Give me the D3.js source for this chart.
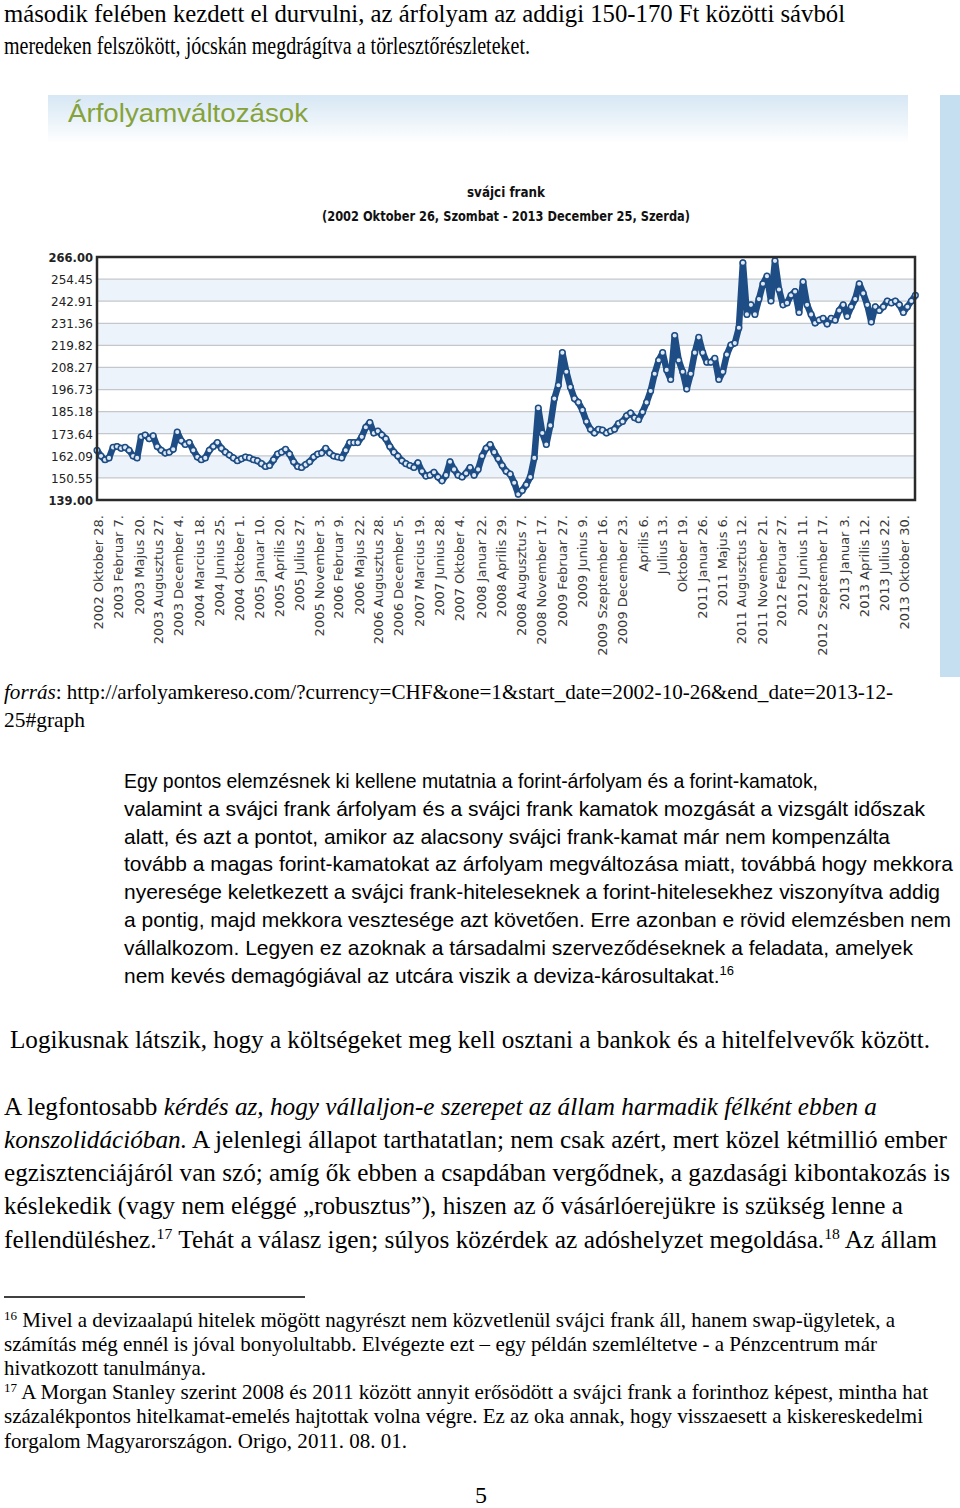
<!DOCTYPE html>
<html>
<head>
<meta charset="utf-8">
<script src="https://cdn.jsdelivr.net/npm/d3@7"></script>
<style>
  body { margin: 0; background: #fff; }
  svg { display: block; }
</style>
</head>
<body>
<div id="page"></div>
<script>
// y axis tick values as printed on the chart
var yTicks = [139.00, 150.55, 162.09, 173.64, 185.18, 196.73, 208.27, 219.82, 231.36, 242.91, 254.45, 266.00];

var tickDates = ["2002-10-28", "2003-02-07", "2003-05-20", "2003-08-27", "2003-12-04", "2004-03-18",
    "2004-06-25", "2004-10-01", "2005-01-10", "2005-04-20", "2005-07-27", "2005-11-03", "2006-02-09",
    "2006-05-22", "2006-08-28", "2006-12-05", "2007-03-19", "2007-06-28", "2007-10-04", "2008-01-22",
    "2008-04-29", "2008-08-07", "2008-11-17", "2009-02-27", "2009-06-09", "2009-09-16", "2009-12-23",
    "2010-04-06", "2010-07-13", "2010-10-19", "2011-01-26", "2011-05-06", "2011-08-12", "2011-11-21",
    "2012-02-27", "2012-06-11", "2012-09-17", "2013-01-03", "2013-04-12", "2013-07-22", "2013-10-30"];

var tickLabels = ["2002 Oktober 28.", "2003 Februar 7.", "2003 Majus 20.", "2003 Augusztus 27.",
    "2003 December 4.", "2004 Marcius 18.", "2004 Junius 25.", "2004 Oktober 1.", "2005 Januar 10.",
    "2005 Aprilis 20.", "2005 Julius 27.", "2005 November 3.", "2006 Februar 9.", "2006 Majus 22.",
    "2006 Augusztus 28.", "2006 December 5.", "2007 Marcius 19.", "2007 Junius 28.", "2007 Oktober 4.",
    "2008 Januar 22.", "2008 Aprilis 29.", "2008 Augusztus 7.", "2008 November 17.", "2009 Februar 27.",
    "2009 Junius 9.", "2009 Szeptember 16.", "2009 December 23.", "Aprilis 6.", "Julius 13.",
    "Oktober 19.", "2011 Januar 26.", "2011 Majus 6.", "2011 Augusztus 12.", "2011 November 21.",
    "2012 Februar 27.", "2012 Junius 11.", "2012 Szeptember 17.", "2013 Januar 3.", "2013 Aprilis 12.",
    "2013 Julius 22.", "2013 Oktober 30."];

// CHF/HUF rate, one reading every 20 days from the start date
var seriesStart = "2002-10-26";
var seriesEnd = "2013-12-25";
var stepDays = 20;
var rates = [
    165, 162, 160, 161, 166.5, 167, 166, 166.5, 165, 162,
    161, 172, 173, 171, 172.5, 167, 165, 163.5, 164, 165.5,
    174.5, 170, 168, 169, 165, 161.5, 160, 161, 165, 167,
    169, 166, 164, 162.5, 161, 159.5, 160.5, 161.5, 161, 160,
    159.5, 158, 156.5, 157, 160, 163, 164, 165.5, 163, 159,
    156.5, 156, 157.5, 159, 161.5, 163, 163.5, 166, 163.5, 162,
    161.5, 161, 165, 169, 169, 169, 172, 177, 179.5, 174,
    175, 173, 171, 167, 164, 162, 159.5, 158, 157, 156,
    158.5, 154, 151.5, 152, 153.5, 151, 149, 152, 159, 155,
    152, 151, 153, 156, 152, 155, 162, 166, 168, 164,
    160.5, 157, 154, 152.5, 148, 142, 144, 147, 151, 161,
    187, 174, 168, 178, 192, 199, 216, 206, 198, 192,
    190, 186, 180, 176, 174, 176, 175.5, 174, 175, 176,
    179, 180, 183, 184.5, 182, 181, 185, 190, 196, 205,
    212, 216, 207, 202, 225, 212, 206, 197, 205, 216,
    224, 216, 211, 211, 213, 202, 206, 215, 220, 221,
    229, 263, 236, 241, 236, 244, 252, 256, 243, 264,
    249, 241, 242, 246, 248, 237, 253, 241, 236, 231.5,
    233, 234, 231, 234, 233, 238, 241, 235, 240, 244,
    252, 247, 241, 232, 240, 238, 240, 243, 242, 243,
    241, 237, 240, 243, 246
];

var W = 960, H = 1508;
var parse = d3.timeParse("%Y-%m-%d");
var serif = "'Liberation Serif', 'Times New Roman', serif";
var sans = "'Liberation Sans', Arial, sans-serif";
var chartFont = "'DejaVu Sans', Verdana, sans-serif";

const svg = d3.select("#page").append("svg")
    .attr("width", W)
    .attr("height", H)
    .attr("viewBox", [0, 0, W, H]);

// one line of page text, fitted to the width it has in the scan
function textLine(x, y, width, size, family, parts) {
    var t = svg.append("text")
        .attr("x", x)
        .attr("y", y)
        .attr("font-size", size)
        .attr("font-family", family)
        .attr("fill", "#000");
    if (width) t.attr("textLength", width).attr("lengthAdjust", "spacingAndGlyphs");
    var shifted = false;
    parts.forEach(function (p) {
        var s = t.append("tspan");
        if (typeof p === "string") {
            s.text(p);
            if (shifted) { s.attr("dy", size * 0.35); shifted = false; }
        } else if (p.i) {
            s.attr("font-style", "italic").text(p.i);
            if (shifted) { s.attr("dy", size * 0.35); shifted = false; }
        } else if (p.sup) {
            s.attr("font-size", size * 0.62).attr("dy", -size * 0.35).text(p.sup);
            shifted = true;
        }
    });
    return t;
}

// text above the figure
textLine(4, 22, 841, 25, serif, ["második felében kezdett el durvulni, az árfolyam az addigi 150-170 Ft közötti sávból"]);
textLine(4, 54, 526, 25, serif, ["meredeken felszökött, jócskán megdrágítva a törlesztőrészleteket."]);

// ---- the screenshot of the exchange rate page ----
var defs = svg.append("defs");
var grad = defs.append("linearGradient").attr("id", "hdr").attr("x1", 0).attr("y1", 0).attr("x2", 0).attr("y2", 1);
grad.append("stop").attr("offset", "0%").attr("stop-color", "#d6e7f4");
grad.append("stop").attr("offset", "60%").attr("stop-color", "#eef5fa");
grad.append("stop").attr("offset", "100%").attr("stop-color", "#ffffff");

svg.append("rect").attr("x", 48).attr("y", 95).attr("width", 860).attr("height", 48).attr("fill", "url(#hdr)");
svg.append("rect").attr("x", 940).attr("y", 95).attr("width", 20).attr("height", 582).attr("fill", "#c6dff0");

svg.append("text")
    .attr("x", 68).attr("y", 122)
    .attr("font-family", sans)
    .attr("font-size", 26)
    .attr("fill", "#86a23a")
    .attr("textLength", 240).attr("lengthAdjust", "spacingAndGlyphs")
    .text("Árfolyamváltozások");

svg.append("text")
    .attr("x", 506).attr("y", 197)
    .attr("text-anchor", "middle")
    .attr("font-family", "'DejaVu Sans Condensed', 'DejaVu Sans', sans-serif")
    .attr("font-weight", "bold")
    .attr("font-size", 14)
    .attr("fill", "#111")
    .attr("textLength", 78).attr("lengthAdjust", "spacingAndGlyphs")
    .text("svájci frank");

svg.append("text")
    .attr("x", 506).attr("y", 221)
    .attr("text-anchor", "middle")
    .attr("font-family", "'DejaVu Sans Condensed', 'DejaVu Sans', sans-serif")
    .attr("font-weight", "bold")
    .attr("font-size", 14)
    .attr("fill", "#111")
    .attr("textLength", 368).attr("lengthAdjust", "spacingAndGlyphs")
    .text("(2002 Oktober 26, Szombat - 2013 December 25, Szerda)");

var margin = { top: 257, right: 915, bottom: 500, left: 97 };

var x = d3.scaleTime()
    .domain([parse(seriesStart), parse(seriesEnd)])
    .range([margin.left, margin.right]);

var y = d3.scaleLinear()
    .domain([d3.min(yTicks), d3.max(yTicks)])
    .range([margin.bottom, margin.top]);

// alternating bands between the grid lines
svg.append("g")
    .selectAll("rect")
    .data(d3.pairs(yTicks))
    .join("rect")
    .attr("x", margin.left)
    .attr("y", d => y(d[1]))
    .attr("width", margin.right - margin.left)
    .attr("height", d => y(d[0]) - y(d[1]))
    .attr("fill", (d, i) => i % 2 === 1 ? "#edf3fa" : "#ffffff");

svg.append("g")
    .attr("stroke", "#c4c8cc")
    .attr("stroke-width", 1.2)
    .selectAll("line")
    .data(yTicks)
    .join("line")
    .attr("x1", margin.left)
    .attr("x2", margin.right)
    .attr("y1", d => y(d))
    .attr("y2", d => y(d));

var yAxis = g => g
    .attr("transform", `translate(${margin.left - 4},0)`)
    .call(d3.axisLeft(y).tickValues(yTicks).tickFormat(d3.format(".2f")).tickSize(0).tickPadding(0))
    .call(g => g.select(".domain").remove())
    .call(g => g.selectAll("text")
        .attr("font-family", chartFont)
        .attr("font-size", 12)
        .attr("fill", "#222")
        .attr("dy", "0.36em"))
    .call(g => g.selectAll("text").filter(d => d === d3.min(yTicks) || d === d3.max(yTicks))
        .attr("font-weight", "bold")
        .attr("font-size", 11.5));

var xAxis = g => g
    .attr("transform", `translate(0,${margin.bottom})`)
    .call(d3.axisBottom(x).tickValues(tickDates.map(parse)).tickFormat((d, i) => tickLabels[i]).tickSize(0))
    .call(g => g.select(".domain").remove())
    .call(g => g.selectAll("text")
        .attr("font-family", chartFont)
        .attr("font-size", 13)
        .attr("fill", "#3a3a3a")
        .attr("text-anchor", "end")
        .attr("transform", "rotate(-90)")
        .attr("x", -15)
        .attr("y", 0)
        .attr("dy", "0.36em"));

svg.append("g").call(yAxis);
svg.append("g").call(xAxis);

var points = rates.map((v, i) => ({ date: d3.timeDay.offset(parse(seriesStart), i * stepDays), value: v }));

var line = d3.line()
    .x(d => x(d.date))
    .y(d => y(d.value))
    .curve(d3.curveLinear);

svg.append("path")
    .datum(points)
    .attr("fill", "none")
    .attr("stroke", "#1e4d85")
    .attr("stroke-width", 6.5)
    .attr("stroke-linejoin", "round")
    .attr("d", line);

svg.append("g")
    .attr("fill", "#dfe9f4")
    .attr("stroke", "#1e4d85")
    .attr("stroke-width", 1.5)
    .selectAll("circle")
    .data(points)
    .join("circle")
    .attr("cx", d => x(d.date))
    .attr("cy", d => y(d.value))
    .attr("r", 2.8);

// plot frame
svg.append("rect")
    .attr("x", margin.left)
    .attr("y", margin.top)
    .attr("width", margin.right - margin.left)
    .attr("height", margin.bottom - margin.top)
    .attr("fill", "none")
    .attr("stroke", "#2a2a2a")
    .attr("stroke-width", 2.5);

// ---- text below the figure ----
textLine(4, 699, 889, 21, serif, [{ i: "forrás" }, ": http://arfolyamkereso.com/?currency=CHF&one=1&start_date=2002-10-26&end_date=2013-12-"]);
textLine(4, 727, 81, 21, serif, ["25#graph"]);

var paraLines = [
    ["Egy pontos elemzésnek ki kellene mutatnia a forint-árfolyam és a forint-kamatok,", 694],
    ["valamint a svájci frank árfolyam és a svájci frank kamatok mozgását a vizsgált időszak", 801],
    ["alatt, és azt a pontot, amikor az alacsony svájci frank-kamat már nem kompenzálta", 766],
    ["tovább a magas forint-kamatokat az árfolyam megváltozása miatt, továbbá hogy mekkora", 829],
    ["nyeresége keletkezett a svájci frank-hiteleseknek a forint-hitelesekhez viszonyítva addig", 816],
    ["a pontig, majd mekkora vesztesége azt követően. Erre azonban e rövid elemzésben nem", 827],
    ["vállalkozom. Legyen ez azoknak a társadalmi szerveződéseknek a feladata, amelyek", 789]
];
paraLines.forEach(function (l, i) {
    textLine(124, 788 + i * 27.8, l[1], 21, sans, [l[0]]);
});
textLine(124, 788 + 7 * 27.8, 610, 21, sans, ["nem kevés demagógiával az utcára viszik a deviza-károsultakat.", { sup: "16" }]);

textLine(10, 1048, 920, 25, serif, ["Logikusnak látszik, hogy a költségeket meg kell osztani a bankok és a hitelfelvevők között."]);

textLine(4, 1115, 873, 25, serif, ["A legfontosabb ", { i: "kérdés az, hogy vállaljon-e szerepet az állam harmadik félként ebben a" }]);
textLine(4, 1148, 943, 25, serif, [{ i: "konszolidációban." }, " A jelenlegi állapot tarthatatlan; nem csak azért, mert közel kétmillió ember"]);
textLine(4, 1181, 946, 25, serif, ["egzisztenciájáról van szó; amíg ők ebben a csapdában vergődnek, a gazdasági kibontakozás is"]);
textLine(4, 1214, 899, 25, serif, ["késlekedik (vagy nem eléggé „robusztus”), hiszen az ő vásárlóerejükre is szükség lenne a"]);
textLine(4, 1248, 933, 25, serif, ["fellendüléshez.", { sup: "17" }, " Tehát a válasz igen; súlyos közérdek az adóshelyzet megoldása.", { sup: "18" }, " Az állam"]);

svg.append("line")
    .attr("x1", 4).attr("x2", 305)
    .attr("y1", 1297).attr("y2", 1297)
    .attr("stroke", "#000")
    .attr("stroke-width", 1.5);

textLine(4, 1327, 891, 21, serif, [{ sup: "16" }, " Mivel a devizaalapú hitelek mögött nagyrészt nem közvetlenül svájci frank áll, hanem swap-ügyletek, a"]);
textLine(4, 1351, 873, 21, serif, ["számítás még ennél is jóval bonyolultabb. Elvégezte ezt – egy példán szemléltetve - a Pénzcentrum már"]);
textLine(4, 1375, 202, 21, serif, ["hivatkozott tanulmánya."]);
textLine(4, 1399, 924, 21, serif, [{ sup: "17" }, " A Morgan Stanley szerint 2008 és 2011 között annyit erősödött a svájci frank a forinthoz képest, mintha hat"]);
textLine(4, 1423, 919, 21, serif, ["százalékpontos hitelkamat-emelés hajtottak volna végre. Ez az oka annak, hogy visszaesett a kiskereskedelmi"]);
textLine(4, 1448, 403, 21, serif, ["forgalom Magyarországon. Origo, 2011. 08. 01."]);

svg.append("text")
    .attr("x", 481).attr("y", 1503)
    .attr("text-anchor", "middle")
    .attr("font-family", serif)
    .attr("font-size", 24)
    .text("5");
</script>
</body>
</html>
